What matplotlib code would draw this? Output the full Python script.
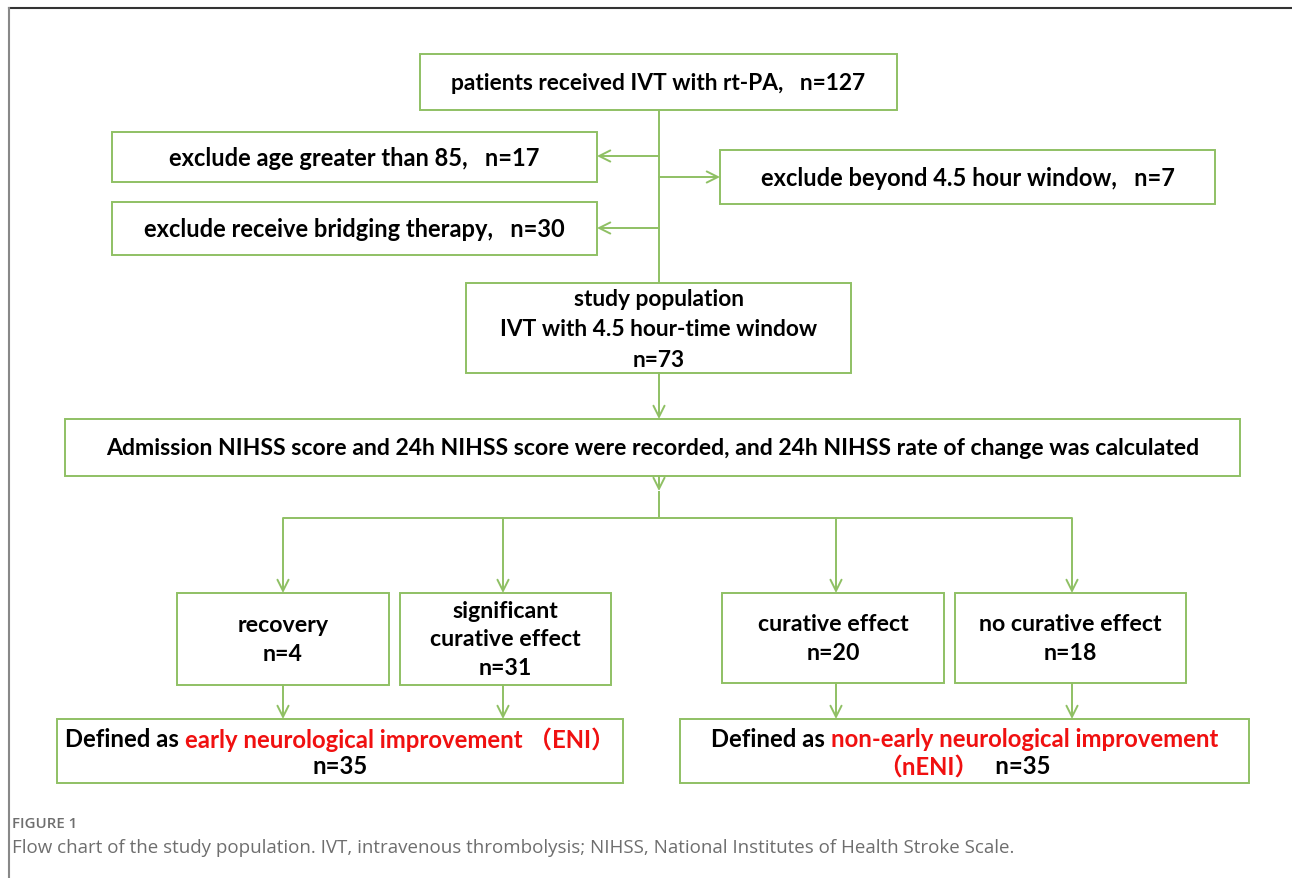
import matplotlib
matplotlib.use("Agg")
import matplotlib.pyplot as plt
from matplotlib.patches import Rectangle

GREEN = "#8fc064"
RED = "#f01010"
FONT = ["Lato", "Noto Sans CJK SC", "DejaVu Sans"]

# box texts and patient counts
top_text = "patients received IVT with rt-PA,   n=127"
exclude_texts = ["exclude age greater than 85,   n=17",
                 "exclude beyond 4.5 hour window,   n=7",
                 "exclude receive bridging therapy,   n=30"]
study_lines = ["study population", "IVT with 4.5 hour-time window", "n=73"]
nihss_text = ("Admission NIHSS score and 24h NIHSS score were recorded, "
              "and 24h NIHSS rate of change was calculated")
group_labels = ["recovery", "significant\ncurative effect",
                "curative effect", "no curative effect"]
group_n = [4, 31, 20, 18]
eni_n = 35
neni_n = 35

# box geometry in pixels: x0, y0, x1, y1
boxes = {
    "top": (420, 55, 897, 111),
    "ex1": (112, 133, 597, 183),
    "ex2": (720, 151, 1215, 205),
    "ex3": (112, 203, 597, 256),
    "study": (466, 284, 851, 374),
    "nihss": (65, 420, 1240, 477),
    "g1": (177, 594, 389, 686),
    "g2": (400, 594, 611, 686),
    "g3": (722, 594, 944, 684),
    "g4": (955, 594, 1186, 684),
    "eni": (57, 720, 623, 784),
    "neni": (680, 720, 1249, 784),
}

fig = plt.figure(figsize=(12.92, 8.79), dpi=100)
ax = fig.add_axes([0, 0, 1, 1])
ax.set_xlim(0, 1292)
ax.set_ylim(879, 0)
ax.axis("off")

# page frame (top and left edges only)
ax.plot([9, 1292], [9, 9], color="#333333", lw=1.5)
ax.plot([9, 9], [9, 879], color="#888888", lw=1.5)


def box(key):
    x0, y0, x1, y1 = boxes[key]
    ax.add_patch(Rectangle((x0, y0), x1 - x0, y1 - y0, fill=False,
                           edgecolor=GREEN, lw=1.4))
    return (x0 + x1) / 2, (y0 + y1) / 2


def btext(x, y, s, size=16.5, color="black", ls=1.3):
    ax.text(x, y, s, ha="center", va="center", fontsize=size,
            fontweight="bold", color=color, family=FONT, linespacing=ls)


def line(xs, ys):
    ax.plot(xs, ys, color=GREEN, lw=1.4, solid_capstyle="butt")


def arrow(x0, y0, x1, y1):
    ax.annotate("", xy=(x1, y1), xytext=(x0, y0),
                arrowprops=dict(arrowstyle="->", color=GREEN, lw=1.4,
                                mutation_scale=20, shrinkA=0, shrinkB=0))


renderer = fig.canvas.get_renderer()


def parts_line(xc, y, parts, size=17.2):
    # a line of text made of pieces with different colours, centred at xc
    objs = []
    for s, c in parts:
        t = ax.text(0, y, s, ha="left", va="center", fontsize=size,
                    fontweight="bold", color=c, family=FONT)
        objs.append(t)
    widths = []
    inv = ax.transData.inverted()
    for t in objs:
        bb = t.get_window_extent(renderer)
        p0 = inv.transform((bb.x0, bb.y0))
        p1 = inv.transform((bb.x1, bb.y0))
        widths.append(p1[0] - p0[0])
    x = xc - sum(widths) / 2
    for t, w in zip(objs, widths):
        t.set_x(x)
        x += w


# boxes and texts
cx, cy = box("top")
btext(cx, cy, top_text, size=16.4)
cx, cy = box("ex1")
btext(cx, cy, exclude_texts[0], size=17)
cx, cy = box("ex2")
btext(cx, cy, exclude_texts[1], size=17)
cx, cy = box("ex3")
btext(cx, cy, exclude_texts[2], size=17)
cx, cy = box("study")
btext(cx, cy + 1, "\n".join(study_lines), size=16.4, ls=1.55)
cx, cy = box("nihss")
btext(cx, cy, nihss_text, size=16.6)
for i, key in enumerate(["g1", "g2", "g3", "g4"]):
    cx, cy = box(key)
    btext(cx, cy, f"{group_labels[i]}\nn={group_n[i]}", size=16.7, ls=1.44)

cx, cy = box("eni")
parts_line(cx, 740, [("Defined as ", "black"),
                     ("early neurological improvement （ENI）", RED)])
parts_line(cx, 767, [(f"n={eni_n}", "black")])
cx, cy = box("neni")
parts_line(cx, 740, [("Defined as ", "black"),
                     ("non-early neurological improvement", RED)])
parts_line(cx, 767, [("（nENI）", RED), (f"   n={neni_n}", "black")])

# connectors
mx = 659
line([mx, mx], [111, 284])
arrow(mx, 157, 597, 157)
arrow(mx, 229, 597, 229)
arrow(mx, 178, 720, 178)
arrow(mx, 374, mx, 420)
arrow(mx, 477, mx, 492)
line([283, 1072], [519, 519])
line([mx, mx], [492, 519])
for gx, key in zip([283, 503, 836, 1072], ["g1", "g2", "g3", "g4"]):
    arrow(gx, 519, gx, 594)
    arrow(gx, boxes[key][3], gx, 720)

# caption
ax.text(12, 824, "FIGURE 1", ha="left", va="center", fontsize=10.8,
        color="#6e6e6e", family=["Open Sans", "DejaVu Sans"], fontweight="semibold")
ax.text(12, 848, "Flow chart of the study population. IVT, intravenous thrombolysis; "
        "NIHSS, National Institutes of Health Stroke Scale.",
        ha="left", va="center", fontsize=13.5, color="#6e6e6e",
        family=["Open Sans", "DejaVu Sans"])

fig.savefig("out.png", dpi=100, facecolor="white")
